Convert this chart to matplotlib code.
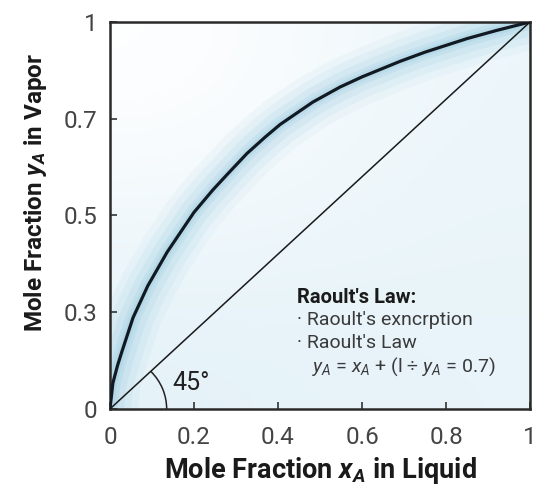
import numpy as np
import matplotlib
matplotlib.use("Agg")
from matplotlib import pyplot as plt
from matplotlib.patches import Arc

plt.rcParams["font.family"] = ["Roboto", "DejaVu Sans"]
plt.rcParams["mathtext.fontset"] = "custom"
plt.rcParams["mathtext.rm"] = "Roboto"
plt.rcParams["mathtext.it"] = "Roboto:italic"
plt.rcParams["mathtext.bf"] = "Roboto:bold"
plt.rcParams["mathtext.bfit"] = "Roboto:bold:italic"

# equilibrium curve (y in axis fraction of the drawn scale)
x_liq = [0, 0.007, 0.018, 0.029, 0.055, 0.090, 0.136, 0.167, 0.20, 0.245, 0.28, 0.326,
         0.37, 0.405, 0.483, 0.548, 0.60, 0.69, 0.75, 0.85, 0.92, 1.0]
y_vap = [0, 0.067, 0.112, 0.150, 0.236, 0.318, 0.405, 0.455, 0.508, 0.566, 0.607, 0.660,
         0.703, 0.735, 0.793, 0.832, 0.858, 0.898, 0.922, 0.957, 0.978, 1.0]

diag_x = [0, 1]
diag_y = [0, 1]

x_ticks = [0, 0.2, 0.4, 0.6, 0.8, 1]
x_labels = ["0", "0.2", "0.4", "0.6", "0.8", "1"]
y_ticks = [0, 0.25, 0.5, 0.75, 1]
y_labels = ["0", "0.3", "0.5", "0.7", "1"]

fig = plt.figure(figsize=(5.47, 4.88), dpi=100)
ax = fig.add_axes([0.201, 0.162, 0.768, 0.793])

# soft blue background wash
grad = np.array([[1.0, 0.55], [0.35, 0.45]])
cmap = matplotlib.colors.LinearSegmentedColormap.from_list("wash", ["#d6ebf5", "#ffffff"])
ax.imshow(grad, extent=[0, 1, 0, 1], origin="upper", cmap=cmap, vmin=0, vmax=1,
          interpolation="bicubic", aspect="auto", zorder=0)

# glow around the curve
for lw, a in [(40, 0.08), (30, 0.10), (20, 0.14), (11, 0.18), (6, 0.22)]:
    ax.plot(x_liq, y_vap, color="#8cc4dc", lw=lw, alpha=a, solid_capstyle="round",
            solid_joinstyle="round", zorder=1)

ax.plot(diag_x, diag_y, color="#1a1a1a", lw=1.1, zorder=2)
ax.plot(x_liq, y_vap, color="#111a22", lw=2.3, solid_joinstyle="round", zorder=3)

ax.add_patch(Arc((0, 0), 0.27, 0.28, theta1=0, theta2=45, color="#222222", lw=1.1, zorder=3))
ax.text(0.148, 0.068, "45°", fontsize=18, color="#222222", va="center", ha="left")

ax.text(0.445, 0.289, "Raoult's Law:", fontsize=14.5, fontweight="bold", color="#1a1a1a",
        va="center", ha="left")
ax.text(0.445, 0.230, "· Raoult's exncrption", fontsize=14, color="#3a3a3a", va="center", ha="left")
ax.text(0.445, 0.171, "· Raoult's Law", fontsize=14, color="#3a3a3a", va="center", ha="left")
ax.text(0.48, 0.109, r"$y_A$ = $x_A$ + (l ÷ $y_A$ = 0.7)", fontsize=14, color="#3a3a3a",
        va="center", ha="left")

ax.set_xlim(0, 1)
ax.set_ylim(0, 1)
ax.set_xticks(x_ticks)
ax.set_xticklabels(x_labels)
ax.set_yticks(y_ticks)
ax.set_yticklabels(y_labels)
ax.tick_params(direction="in", length=5, width=1.2, labelsize=17.5, colors="#333333", pad=9)
ax.tick_params(axis="both", labelcolor="#444444")
ax.tick_params(axis="x", pad=12)

for s in ax.spines.values():
    s.set_linewidth(1.8)
    s.set_color("#2a2a2a")

ax.set_xlabel(r"Mole Fraction $\mathbfit{x_A}$ in Liquid", fontsize=19.5, fontweight="bold",
              color="#1a1a1a")
ax.xaxis.set_label_coords(0.5, -0.12)
ax.set_ylabel(r"Mole Fraction $\mathbfit{y_A}$ in Vapor", fontsize=17.5, fontweight="bold",
              color="#1a1a1a")
ax.yaxis.set_label_coords(-0.145, 0.56)

plt.savefig("out.png", dpi=100)
